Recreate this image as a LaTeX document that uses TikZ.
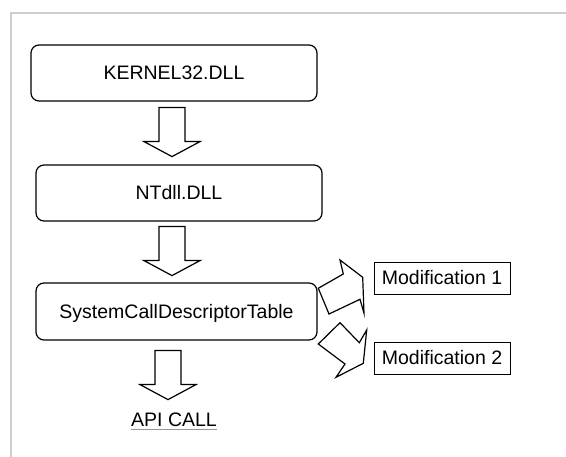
\documentclass[tikz,border=0pt]{standalone}
\usepackage{fontspec}
\setmainfont{Liberation Sans}
\usetikzlibrary{calc}

\definecolor{framegray}{RGB}{205,205,205}
\definecolor{linegray}{RGB}{150,150,150}

\tikzset{
    labelfont/.style = {font = \fontsize{19.5}{23}\selectfont, text height = 14pt, text depth = 0pt, inner sep = 0pt},
    dllbox/.style = {labelfont, draw, line width = 1.2pt, rounded corners = 8pt, minimum height = 56pt},
    modbox/.style = {labelfont, draw, line width = 0.9pt, minimum width = 136pt, minimum height = 32pt},
    blockline/.style = {line width = 1.2pt, line join = miter},
    pics/downarrow/.style = {code = {
        \draw[blockline] (-13, 0) -- (13, 0) -- (13, 34) -- (28, 34) -- (0, 49) -- (-28, 34) -- (-13, 34) -- cycle;
    }}
}

\begin{document}
\begin{tikzpicture}[x = 1pt, y = -1pt]
        \useasboundingbox (0, 0) rectangle (566, 457);
        \draw[framegray, line width = 1.5pt] (566, 13) -- (11, 13) -- (11, 457);

        \node[dllbox, minimum width = 286pt] (kernel) at (174, 73) {KERNEL32.DLL};
        \node[dllbox, minimum width = 286pt] (ntdll) at (179, 193) {NTdll.DLL};
        \node[dllbox, minimum width = 281pt, minimum height = 57pt] (sdt) at (176.5, 311.5) {SystemCallDescriptorTable};
        \node[labelfont] (api) at (174, 419.5) {API CALL};
        \draw[linegray, line width = 0.9pt] ([yshift = -3pt] api.south west) -- ([yshift = -3pt] api.south east);

        \node[modbox] (mod1) at (442, 278) {Modification 1};
        \node[modbox] (mod2) at (442, 358) {Modification 2};

        \pic (down1) at ($(kernel.south) + (-2, 6)$) {downarrow};
        \pic (down2) at ($(ntdll.south) + (-7, 5)$) {downarrow};
        \pic (down3) at ($(sdt.south) + (-8.5, 10)$) {downarrow};

        \draw[blockline] (318.3, 288.3) -- (343.3, 274) -- (340, 260) -- (362.7, 277.3)
            -- (364, 313.3) -- (360, 299.3) -- (329, 314) -- cycle;
        \draw[blockline] (340, 322.7) -- (359.3, 342.7) -- (366.7, 330) -- (363.3, 363.3)
            -- (336, 377.3) -- (345, 364) -- (318.3, 344) -- cycle;

    \end{tikzpicture}
\end{document}
